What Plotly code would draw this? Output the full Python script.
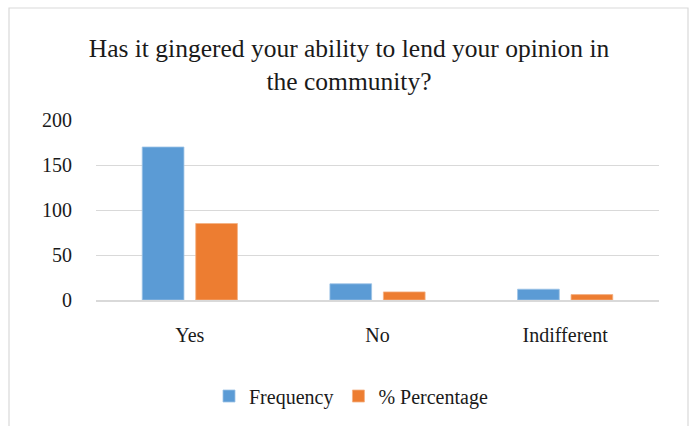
import plotly.graph_objects as go

categories = ["Yes", "No", "Indifferent"]
frequency = [170, 18, 12]
percentage = [85, 9, 6]
y_ticks = [0, 50, 100, 150, 200]

W, H = 699, 426
L, R, T, B = 96, 40, 120, 126
pw, ph = W - L - R, H - T - B

def px_x(x):
    return (x - L) / pw

def px_y(y):
    return (H - B - y) / ph

font = "Liberation Serif"

fig = go.Figure()
fig.add_bar(name="Frequency", x=categories, y=frequency,
            marker=dict(color="#5B9BD5", line=dict(color="#9DC3E6", width=0.8)))
fig.add_bar(name="% Percentage", x=categories, y=percentage,
            marker=dict(color="#ED7D31", line=dict(color="#F4B183", width=0.8)))

fig.update_layout(
    width=W, height=H,
    margin=dict(l=L, r=R, t=T, b=B, autoexpand=False),
    paper_bgcolor="white", plot_bgcolor="white",
    barmode="group", bargap=0.43, bargroupgap=0.22,
    font=dict(family=font, size=20, color="#1a1a1a"),
    title=dict(text="Has it gingered your ability to lend your opinion in<br>the community?",
               x=px_x(349), xref="paper", xanchor="center",
               y=1 - 57 / H, yref="container", yanchor="middle",
               font=dict(family=font, size=25.5, color="#1a1a1a")),
    showlegend=True,
    legend=dict(orientation="h", x=px_x(351), xanchor="center",
                y=px_y(396), yanchor="middle", font=dict(family=font, size=20),
                itemwidth=30, tracegroupgap=0),
    xaxis=dict(showgrid=False, showline=True, linecolor="#D9D9D9", linewidth=1.5,
               ticks="", ticklabelstandoff=16, fixedrange=True, automargin=False),
    yaxis=dict(range=[0, 200], tickvals=y_ticks, showgrid=True, gridcolor="#D9D9D9",
               gridwidth=1, zeroline=False, showline=False, ticks="",
               ticklabelstandoff=23, fixedrange=True, automargin=False),
    shapes=[dict(type="rect", xref="paper", yref="paper",
                 x0=px_x(9), x1=px_x(688), y0=px_y(8), y1=px_y(440),
                 line=dict(color="#D9D9D9", width=1.2), fillcolor="rgba(0,0,0,0)",
                 layer="below")],
)

fig.write_html("out.html")
